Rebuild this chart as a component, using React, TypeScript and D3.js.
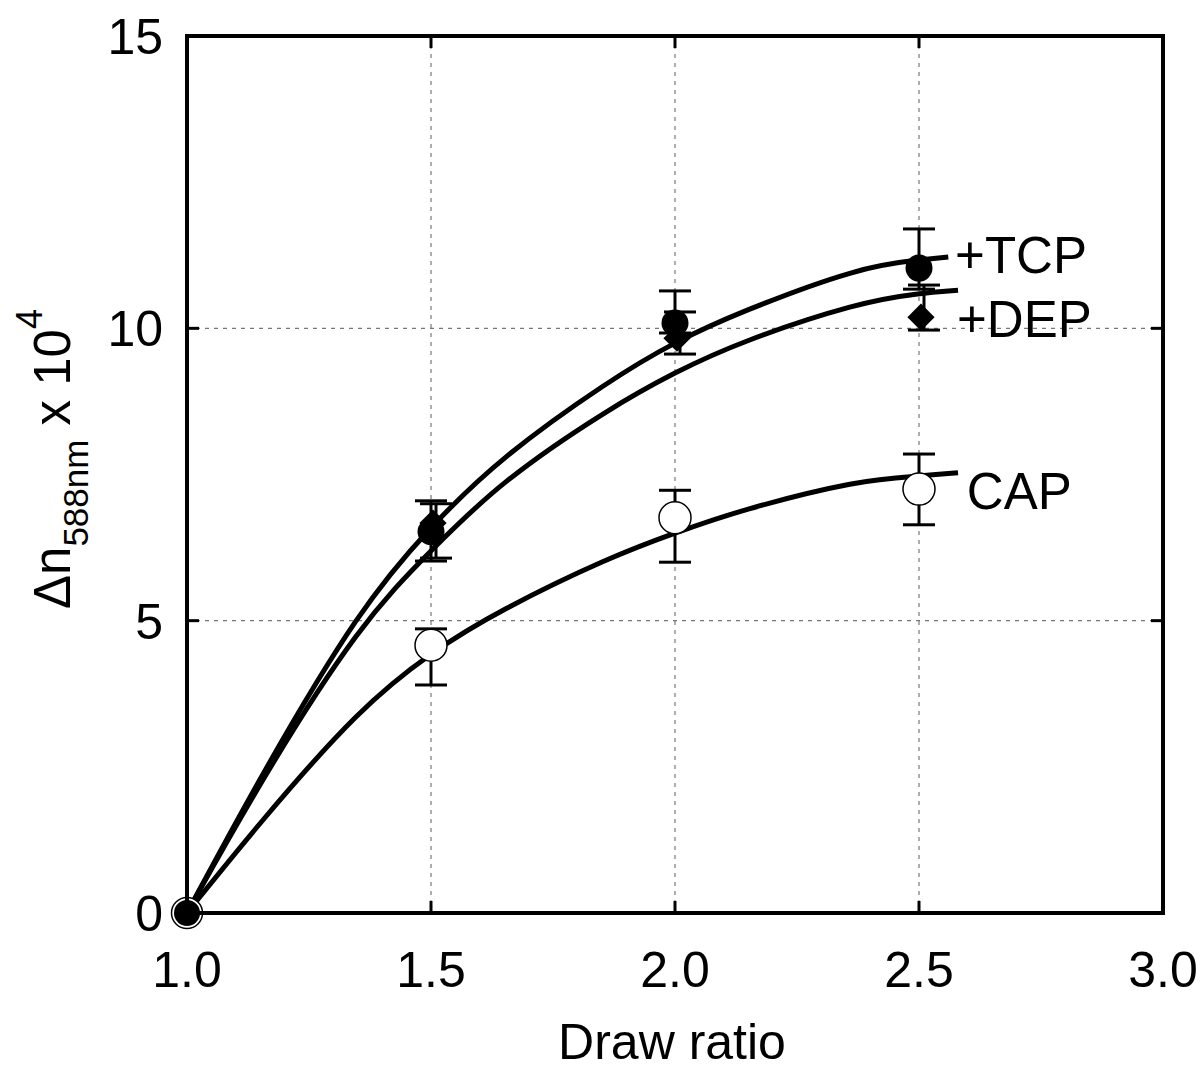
import React from "react";
import * as d3 from "d3";

const W = 1203;
const H = 1071;

const xTicks = [1.0, 1.5, 2.0, 2.5, 3.0];
const yTicks = [0, 5, 10, 15];
const xGrid = [1.5, 2.0, 2.5];
const yGrid = [5, 10];

// fitted curves
const tcpCurve: [number, number][] = [
  [1.0, 0], [1.15, 2.33], [1.355, 5.23], [1.5, 6.62], [1.641, 7.78], [1.867, 9.12],
  [2.0, 9.77], [2.133, 10.28], [2.379, 11.05], [2.5, 11.17], [2.56, 11.22],
];
const depCurve: [number, number][] = [
  [1.0, 0], [1.15, 2.25], [1.355, 4.96], [1.5, 6.2], [1.641, 7.37], [1.867, 8.64],
  [2.0, 9.25], [2.133, 9.77], [2.379, 10.45], [2.5, 10.6], [2.58, 10.65],
];
const capCurve: [number, number][] = [
  [1.0, 0], [1.15, 1.56], [1.355, 3.51], [1.5, 4.46], [1.641, 5.18], [1.867, 6.09],
  [2.0, 6.5], [2.133, 6.89], [2.379, 7.41], [2.5, 7.47], [2.58, 7.53],
];

// measured points: x, value, upper, lower
const drawRatio = [1.5, 2.0, 2.5];
const capVal = [4.58, 6.76, 7.25];
const capHi = [4.86, 7.23, 7.85];
const capLo = [3.9, 6.0, 6.64];
const tcpVal = [6.52, 10.09, 11.03];
const tcpHi = [7.05, 10.64, 11.7];
const tcpLo = [6.02, 9.92, 10.67];
const depVal = [6.67, 9.83, 10.19];
const depHi = [7.0, 10.28, 10.74];
const depLo = [6.07, 9.56, 9.97];

const labels = [
  { text: "+TCP", x: 2.574, y: 10.95 },
  { text: "+DEP", x: 2.578, y: 9.85 },
  { text: "CAP", x: 2.598, y: 6.91 },
];

const FONT = "'Liberation Sans', Arial, Helvetica, sans-serif";

export default function App() {
  const x = d3.scaleLinear().domain([1, 3]).range([187, 1163]);
  const y = d3.scaleLinear().domain([0, 15]).range([913, 36]);
  const line = d3
    .line<[number, number]>()
    .x((d) => x(d[0]))
    .y((d) => y(d[1]))
    .curve(d3.curveBasis);

  const capHalf = 16;
  const depOff = 5;
  const diamond = d3.symbol().type(d3.symbolSquare).size(370)()!;

  const errBar = (cx: number, hi: number, lo: number, key: string) => (
    <g key={key} stroke="#000" strokeWidth={3}>
      <line x1={cx} x2={cx} y1={y(hi)} y2={y(lo)} />
      <line x1={cx - capHalf} x2={cx + capHalf} y1={y(hi)} y2={y(hi)} />
      <line x1={cx - capHalf} x2={cx + capHalf} y1={y(lo)} y2={y(lo)} />
    </g>
  );

  return (
    <div style={{ position: "absolute", left: 0, top: 0 }}>
      <svg width={W} height={H} style={{ display: "block", background: "#fff" }} fontFamily={FONT}>
        <rect width={W} height={H} fill="#fff" />
        {/* grid */}
        {xGrid.map((g) => (
          <line key={"xg" + g} x1={x(g)} x2={x(g)} y1={y(0)} y2={y(15)} stroke="#777" strokeWidth={1.2} strokeDasharray="4,5" />
        ))}
        {yGrid.map((g) => (
          <line key={"yg" + g} x1={x(1)} x2={x(3)} y1={y(g)} y2={y(g)} stroke="#777" strokeWidth={1.2} strokeDasharray="4,5" />
        ))}
        {/* curves */}
        {[tcpCurve, depCurve, capCurve].map((c, i) => (
          <path key={"c" + i} d={line(c)!} fill="none" stroke="#000" strokeWidth={5} strokeLinecap="butt" />
        ))}
        {/* error bars */}
        {drawRatio.map((d, i) => errBar(x(d), capHi[i], capLo[i], "ec" + i))}
        {drawRatio.map((d, i) => errBar(x(d), tcpHi[i], tcpLo[i], "et" + i))}
        {drawRatio.map((d, i) => errBar(x(d) + depOff, depHi[i], depLo[i], "ed" + i))}
        {/* markers */}
        {drawRatio.map((d, i) => (
          <circle key={"mc" + i} cx={x(d)} cy={y(capVal[i])} r={16} fill="#fff" stroke="#000" strokeWidth={1.5} />
        ))}
        {drawRatio.map((d, i) => (
          <path key={"md" + i} d={diamond} transform={`translate(${x(d) + 2},${y(depVal[i])}) rotate(45)`} fill="#000" />
        ))}
        {drawRatio.map((d, i) => (
          <circle key={"mt" + i} cx={x(d)} cy={y(tcpVal[i])} r={13.5} fill="#000" />
        ))}
        {/* origin point */}
        <circle cx={x(1)} cy={y(0)} r={15.5} fill="#fff" stroke="#000" strokeWidth={1.5} />
        <circle cx={x(1)} cy={y(0)} r={13} fill="#000" />
        {/* frame */}
        <rect x={x(1)} y={y(15)} width={x(3) - x(1)} height={y(0) - y(15)} fill="none" stroke="#000" strokeWidth={4} />
        {/* ticks */}
        {xTicks.slice(1, -1).map((t) => (
          <g key={"xt" + t} stroke="#000" strokeWidth={3}>
            <line x1={x(t)} x2={x(t)} y1={y(0)} y2={y(0) - 12} />
            <line x1={x(t)} x2={x(t)} y1={y(15)} y2={y(15) + 12} />
          </g>
        ))}
        {yTicks.slice(1, -1).map((t) => (
          <g key={"yt" + t} stroke="#000" strokeWidth={3}>
            <line x1={x(1)} x2={x(1) + 12} y1={y(t)} y2={y(t)} />
            <line x1={x(3)} x2={x(3) - 12} y1={y(t)} y2={y(t)} />
          </g>
        ))}
        {/* tick labels */}
        {xTicks.map((t) => (
          <text key={"xl" + t} x={x(t)} y={987} textAnchor="middle" fontSize={50} fill="#000">
            {t.toFixed(1)}
          </text>
        ))}
        {yTicks.map((t) => (
          <text key={"yl" + t} x={163} y={y(t)} dy="0.36em" textAnchor="end" fontSize={50} fill="#000">
            {t}
          </text>
        ))}
        {/* series labels */}
        {labels.map((l) => (
          <text key={l.text} x={x(l.x)} y={y(l.y)} fontSize={51} fill="#000">
            {l.text}
          </text>
        ))}
        {/* axis titles */}
        <text x={672} y={1059} textAnchor="middle" fontSize={50} fill="#000">
          Draw ratio
        </text>
        <text transform="translate(70,459) rotate(-90)" textAnchor="middle" fontSize={51} fill="#000">
          <tspan>Δn</tspan>
          <tspan fontSize={35} dy={18}>588nm</tspan>
          <tspan dy={-18}> x 10</tspan>
          <tspan fontSize={36} dy={-28}>4</tspan>
        </text>
      </svg>
    </div>
  );
}
